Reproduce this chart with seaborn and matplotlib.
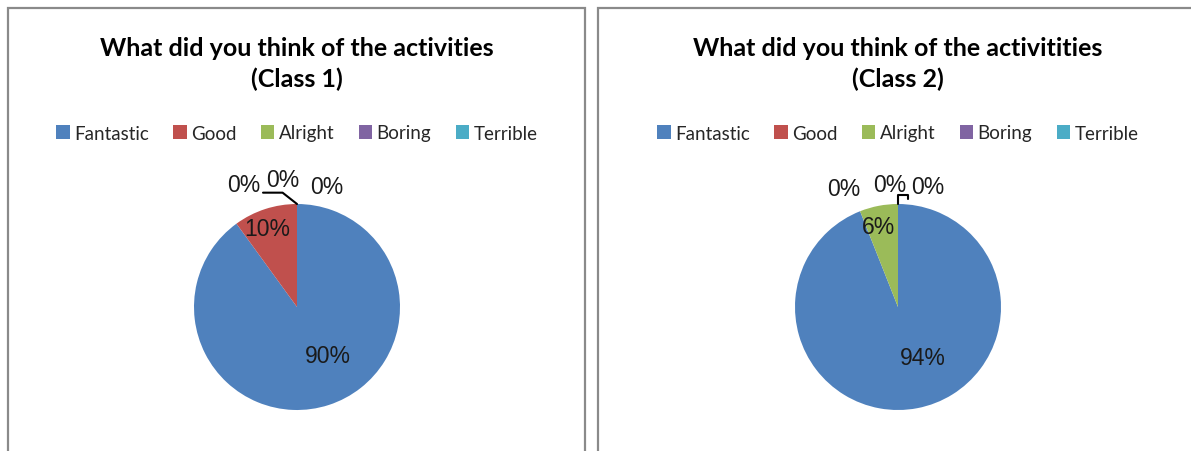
import matplotlib
matplotlib.use("Agg")
import matplotlib.pyplot as plt
from matplotlib.patches import Rectangle, Patch
from matplotlib.lines import Line2D
import seaborn as sns
import numpy as np

# ---- data ----
categories = ["Fantastic", "Good", "Alright", "Boring", "Terrible"]
class1_values = [90, 10, 0, 0, 0]
class2_values = [94, 0, 6, 0, 0]
titles = ["What did you think of the activities\n(Class 1)",
          "What did you think of the activitities\n(Class 2)"]
colors = ["#4F81BD", "#C0504D", "#9BBB59", "#8064A2", "#4BACC6"]

sns.set_style("white")
plt.rcParams['font.family'] = ['Lato', 'DejaVu Sans']

W, H = 1191, 452
fig = plt.figure(figsize=(W / 100, H / 100), dpi=100)

# panel borders
border = "#8a8a8a"
fig.patches.append(Rectangle((8 / W, -0.1), (585 - 8) / W, 1.1 - 9 / H,
                             transform=fig.transFigure, fill=False,
                             edgecolor=border, linewidth=1.6))
fig.patches.append(Rectangle((598 / W, -0.1), 0.6, 1.1 - 9 / H,
                             transform=fig.transFigure, fill=False,
                             edgecolor=border, linewidth=1.6))

R = 103
panels = [
    dict(cx=297, cy=308, values=class1_values, title=titles[0],
         zero_pos=[(-0.52, 1.19), (-0.14, 1.24), (0.29, 1.17)],
         leader=[(0, 1.0), (-0.14, 1.11), (-0.33, 1.11)]),
    dict(cx=898, cy=308, values=class2_values, title=titles[1],
         zero_pos=[(-0.53, 1.15), (-0.08, 1.19), (0.29, 1.17)],
         leader=[(0, 1.0), (0, 1.09), (0.1, 1.09), (0.1, 1.05)]),
]

for p in panels:
    ax = fig.add_axes([(p["cx"] - R) / W, (H - p["cy"] - R) / H, 2 * R / W, 2 * R / H])
    wedges, _ = ax.pie(p["values"], colors=colors, startangle=90, counterclock=False,
                       radius=1.0, wedgeprops=dict(linewidth=0))
    ax.set_xlim(-1, 1)
    ax.set_ylim(-1, 1)
    ax.set_aspect("auto")
    ax.axis("off")
    zi = 0
    for w, v in zip(wedges, p["values"]):
        label = f"{v}%"
        if v > 0:
            ang = np.deg2rad((w.theta1 + w.theta2) / 2)
            big = v > 50
            d = 0.5 if big else 0.8
            dx = 0.15 if big else -0.04
            ax.text(d * np.cos(ang) + dx, d * np.sin(ang), label,
                    ha="center", va="center", fontsize=16.5,
                    family="Liberation Sans", color="#1a1a1a", clip_on=False)
        else:
            x, y = p["zero_pos"][zi]
            zi += 1
            ax.text(x, y, label, ha="center", va="center", fontsize=16.5,
                    family="Liberation Sans", color="#1a1a1a", clip_on=False)
    lx, ly = zip(*p["leader"])
    ax.add_line(Line2D(lx, ly, color="black", linewidth=1.5, clip_on=False))

    fig.text(p["cx"] / W, 1 - 64 / H, p["title"], ha="center", va="center",
             fontsize=18, fontweight="bold", linespacing=1.42, color="black")

    handles = [Patch(facecolor=c, edgecolor="none") for c in colors]
    fig.legend(handles, categories, loc="center", ncol=5,
               bbox_to_anchor=(p["cx"] / W, 1 - 134 / H), frameon=False,
               fontsize=13.5, handlelength=0.7, handleheight=0.7,
               handletextpad=0.25, columnspacing=1.3, borderaxespad=0)

fig.savefig("out.png", dpi=100)
